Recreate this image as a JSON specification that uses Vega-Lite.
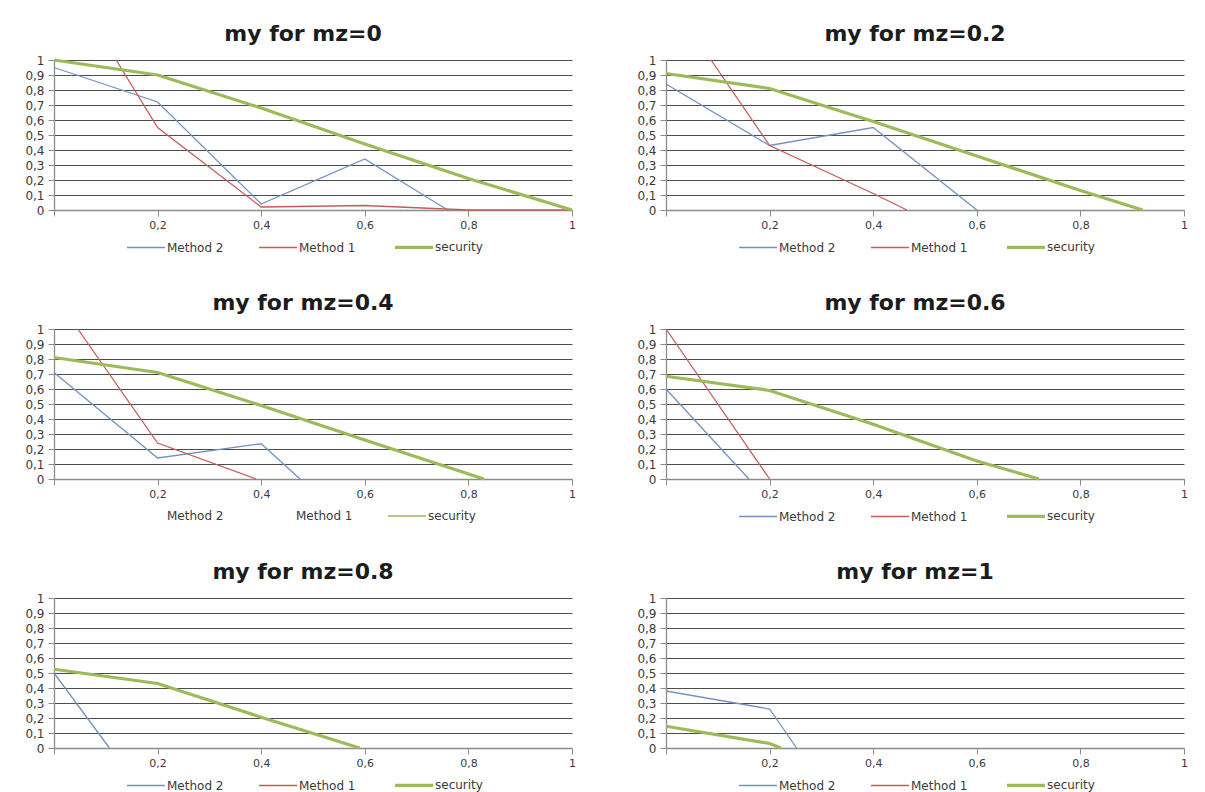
{
  "$schema": "https://vega.github.io/schema/vega-lite/v6.json",
  "background": "white",
  "padding": {"left": 24, "top": 22, "right": 5, "bottom": 0},
  "data": {"values": [
    {"p": "0", "s": "Method 2", "x": 0, "y": 0.95},
    {"p": "0", "s": "Method 2", "x": 0.2, "y": 0.72},
    {"p": "0", "s": "Method 2", "x": 0.4, "y": 0.04},
    {"p": "0", "s": "Method 2", "x": 0.6, "y": 0.34},
    {"p": "0", "s": "Method 2", "x": 0.76, "y": 0},
    {"p": "0", "s": "Method 1", "x": 0.12, "y": 1},
    {"p": "0", "s": "Method 1", "x": 0.2, "y": 0.55},
    {"p": "0", "s": "Method 1", "x": 0.4, "y": 0.02},
    {"p": "0", "s": "Method 1", "x": 0.6, "y": 0.03},
    {"p": "0", "s": "Method 1", "x": 0.8, "y": 0},
    {"p": "0", "s": "Method 1", "x": 1, "y": 0},
    {"p": "0", "s": "security", "x": 0, "y": 1},
    {"p": "0", "s": "security", "x": 0.2, "y": 0.9},
    {"p": "0", "s": "security", "x": 0.4, "y": 0.68},
    {"p": "0", "s": "security", "x": 0.6, "y": 0.44},
    {"p": "0", "s": "security", "x": 0.8, "y": 0.21},
    {"p": "0", "s": "security", "x": 1, "y": 0},

    {"p": "0.2", "s": "Method 2", "x": 0, "y": 0.84},
    {"p": "0.2", "s": "Method 2", "x": 0.2, "y": 0.43},
    {"p": "0.2", "s": "Method 2", "x": 0.4, "y": 0.55},
    {"p": "0.2", "s": "Method 2", "x": 0.6, "y": 0},
    {"p": "0.2", "s": "Method 1", "x": 0.087, "y": 1},
    {"p": "0.2", "s": "Method 1", "x": 0.2, "y": 0.43},
    {"p": "0.2", "s": "Method 1", "x": 0.4, "y": 0.11},
    {"p": "0.2", "s": "Method 1", "x": 0.465, "y": 0},
    {"p": "0.2", "s": "security", "x": 0, "y": 0.91},
    {"p": "0.2", "s": "security", "x": 0.2, "y": 0.81},
    {"p": "0.2", "s": "security", "x": 0.4, "y": 0.59},
    {"p": "0.2", "s": "security", "x": 0.6, "y": 0.36},
    {"p": "0.2", "s": "security", "x": 0.8, "y": 0.13},
    {"p": "0.2", "s": "security", "x": 0.92, "y": 0},

    {"p": "0.4", "s": "Method 2", "x": 0, "y": 0.71},
    {"p": "0.4", "s": "Method 2", "x": 0.2, "y": 0.14},
    {"p": "0.4", "s": "Method 2", "x": 0.4, "y": 0.235},
    {"p": "0.4", "s": "Method 2", "x": 0.475, "y": 0},
    {"p": "0.4", "s": "Method 1", "x": 0.046, "y": 1},
    {"p": "0.4", "s": "Method 1", "x": 0.2, "y": 0.24},
    {"p": "0.4", "s": "Method 1", "x": 0.39, "y": 0},
    {"p": "0.4", "s": "security", "x": 0, "y": 0.81},
    {"p": "0.4", "s": "security", "x": 0.2, "y": 0.71},
    {"p": "0.4", "s": "security", "x": 0.4, "y": 0.49},
    {"p": "0.4", "s": "security", "x": 0.6, "y": 0.26},
    {"p": "0.4", "s": "security", "x": 0.83, "y": 0},

    {"p": "0.6", "s": "Method 2", "x": 0, "y": 0.6},
    {"p": "0.6", "s": "Method 2", "x": 0.16, "y": 0},
    {"p": "0.6", "s": "Method 1", "x": 0, "y": 1},
    {"p": "0.6", "s": "Method 1", "x": 0.2, "y": 0},
    {"p": "0.6", "s": "security", "x": 0, "y": 0.685},
    {"p": "0.6", "s": "security", "x": 0.2, "y": 0.59},
    {"p": "0.6", "s": "security", "x": 0.4, "y": 0.365},
    {"p": "0.6", "s": "security", "x": 0.6, "y": 0.12},
    {"p": "0.6", "s": "security", "x": 0.72, "y": 0},

    {"p": "0.8", "s": "Method 2", "x": 0, "y": 0.5},
    {"p": "0.8", "s": "Method 2", "x": 0.107, "y": 0},
    {"p": "0.8", "s": "security", "x": 0, "y": 0.525},
    {"p": "0.8", "s": "security", "x": 0.2, "y": 0.43},
    {"p": "0.8", "s": "security", "x": 0.4, "y": 0.205},
    {"p": "0.8", "s": "security", "x": 0.59, "y": 0},

    {"p": "1", "s": "Method 2", "x": 0, "y": 0.38},
    {"p": "1", "s": "Method 2", "x": 0.2, "y": 0.26},
    {"p": "1", "s": "Method 2", "x": 0.252, "y": 0},
    {"p": "1", "s": "security", "x": 0, "y": 0.145},
    {"p": "1", "s": "security", "x": 0.2, "y": 0.03},
    {"p": "1", "s": "security", "x": 0.222, "y": 0}
  ]},
  "columns": 2,
  "bounds": "flush",
  "spacing": {"row": 119, "column": 94},
  "resolve": {"scale": {"color": "independent"}, "legend": {"color": "independent"}},
  "concat": [
    {
      "title": "my for mz=0",
      "width": 518, "height": 150,
      "transform": [{"filter": "datum.p == '0'"}],
      "encoding": {
        "x": {"field": "x", "type": "quantitative", "scale": {"domain": [0, 1], "nice": false}, "axis": {"values": [0, 0.2, 0.4, 0.6, 0.8, 1], "grid": false, "labelExpr": "datum.value == 0 ? '' : replace(format(datum.value, '~g'), '.', ',')"}},
        "y": {"field": "y", "type": "quantitative", "scale": {"domain": [0, 1], "nice": false}, "axis": {"values": [0, 0.1, 0.2, 0.3, 0.4, 0.5, 0.6, 0.7, 0.8, 0.9, 1], "grid": true, "labelExpr": "replace(format(datum.value, '~g'), '.', ',')"}},
        "color": {"field": "s", "type": "nominal", "scale": {"domain": ["Method 2", "Method 1", "security"], "range": ["#7193c3", "#c65c5a", "#9bbb59"]}, "legend": {"orient": "none", "direction": "horizontal", "legendX": 86, "legendY": 181, "title": null, "encode": {"symbols": {"update": {"strokeWidth": {"signal": "datum.value == 'security' ? 3.2 : 1.3"}}}}}}
      },
      "layer": [
        {"transform": [{"filter": "datum.s != 'security'"}], "mark": {"type": "line", "strokeWidth": 1.3}},
        {"transform": [{"filter": "datum.s == 'security'"}], "mark": {"type": "line", "strokeWidth": 3.2}}
      ]
    },
    {
      "title": "my for mz=0.2",
      "width": 518, "height": 150,
      "transform": [{"filter": "datum.p == '0.2'"}],
      "encoding": {
        "x": {"field": "x", "type": "quantitative", "scale": {"domain": [0, 1], "nice": false}, "axis": {"values": [0, 0.2, 0.4, 0.6, 0.8, 1], "grid": false, "labelExpr": "datum.value == 0 ? '' : replace(format(datum.value, '~g'), '.', ',')"}},
        "y": {"field": "y", "type": "quantitative", "scale": {"domain": [0, 1], "nice": false}, "axis": {"values": [0, 0.1, 0.2, 0.3, 0.4, 0.5, 0.6, 0.7, 0.8, 0.9, 1], "grid": true, "labelExpr": "replace(format(datum.value, '~g'), '.', ',')"}},
        "color": {"field": "s", "type": "nominal", "scale": {"domain": ["Method 2", "Method 1", "security"], "range": ["#7193c3", "#c65c5a", "#9bbb59"]}, "legend": {"orient": "none", "direction": "horizontal", "legendX": 86, "legendY": 181, "title": null, "encode": {"symbols": {"update": {"strokeWidth": {"signal": "datum.value == 'security' ? 3.2 : 1.3"}}}}}}
      },
      "layer": [
        {"transform": [{"filter": "datum.s != 'security'"}], "mark": {"type": "line", "strokeWidth": 1.3}},
        {"transform": [{"filter": "datum.s == 'security'"}], "mark": {"type": "line", "strokeWidth": 3.2}}
      ]
    },
    {
      "title": "my for mz=0.4",
      "width": 518, "height": 150,
      "transform": [{"filter": "datum.p == '0.4'"}],
      "encoding": {
        "x": {"field": "x", "type": "quantitative", "scale": {"domain": [0, 1], "nice": false}, "axis": {"values": [0, 0.2, 0.4, 0.6, 0.8, 1], "grid": false, "labelExpr": "datum.value == 0 ? '' : replace(format(datum.value, '~g'), '.', ',')"}},
        "y": {"field": "y", "type": "quantitative", "scale": {"domain": [0, 1], "nice": false}, "axis": {"values": [0, 0.1, 0.2, 0.3, 0.4, 0.5, 0.6, 0.7, 0.8, 0.9, 1], "grid": true, "labelExpr": "replace(format(datum.value, '~g'), '.', ',')"}},
        "color": {"field": "s", "type": "nominal", "scale": {"domain": ["Method 2", "Method 1", "security"], "range": ["#7193c3", "#c65c5a", "#9bbb59"]}, "legend": {"orient": "none", "direction": "horizontal", "legendX": 86, "legendY": 181, "title": null, "encode": {"symbols": {"update": {"strokeWidth": {"signal": "datum.value == 'security' ? 1.5 : 0"}}}}}}
      },
      "layer": [
        {"transform": [{"filter": "datum.s != 'security'"}], "mark": {"type": "line", "strokeWidth": 1.3}},
        {"transform": [{"filter": "datum.s == 'security'"}], "mark": {"type": "line", "strokeWidth": 3.2}}
      ]
    },
    {
      "title": "my for mz=0.6",
      "width": 518, "height": 150,
      "transform": [{"filter": "datum.p == '0.6'"}],
      "encoding": {
        "x": {"field": "x", "type": "quantitative", "scale": {"domain": [0, 1], "nice": false}, "axis": {"values": [0, 0.2, 0.4, 0.6, 0.8, 1], "grid": false, "labelExpr": "datum.value == 0 ? '' : replace(format(datum.value, '~g'), '.', ',')"}},
        "y": {"field": "y", "type": "quantitative", "scale": {"domain": [0, 1], "nice": false}, "axis": {"values": [0, 0.1, 0.2, 0.3, 0.4, 0.5, 0.6, 0.7, 0.8, 0.9, 1], "grid": true, "labelExpr": "replace(format(datum.value, '~g'), '.', ',')"}},
        "color": {"field": "s", "type": "nominal", "scale": {"domain": ["Method 2", "Method 1", "security"], "range": ["#7193c3", "#c65c5a", "#9bbb59"]}, "legend": {"orient": "none", "direction": "horizontal", "legendX": 86, "legendY": 181, "title": null, "encode": {"symbols": {"update": {"strokeWidth": {"signal": "datum.value == 'security' ? 3.2 : 1.3"}}}}}}
      },
      "layer": [
        {"transform": [{"filter": "datum.s != 'security'"}], "mark": {"type": "line", "strokeWidth": 1.3}},
        {"transform": [{"filter": "datum.s == 'security'"}], "mark": {"type": "line", "strokeWidth": 3.2}}
      ]
    },
    {
      "title": "my for mz=0.8",
      "width": 518, "height": 150,
      "transform": [{"filter": "datum.p == '0.8'"}],
      "encoding": {
        "x": {"field": "x", "type": "quantitative", "scale": {"domain": [0, 1], "nice": false}, "axis": {"values": [0, 0.2, 0.4, 0.6, 0.8, 1], "grid": false, "labelExpr": "datum.value == 0 ? '' : replace(format(datum.value, '~g'), '.', ',')"}},
        "y": {"field": "y", "type": "quantitative", "scale": {"domain": [0, 1], "nice": false}, "axis": {"values": [0, 0.1, 0.2, 0.3, 0.4, 0.5, 0.6, 0.7, 0.8, 0.9, 1], "grid": true, "labelExpr": "replace(format(datum.value, '~g'), '.', ',')"}},
        "color": {"field": "s", "type": "nominal", "scale": {"domain": ["Method 2", "Method 1", "security"], "range": ["#7193c3", "#c65c5a", "#9bbb59"]}, "legend": {"orient": "none", "direction": "horizontal", "legendX": 86, "legendY": 181, "title": null, "encode": {"symbols": {"update": {"strokeWidth": {"signal": "datum.value == 'security' ? 3.2 : 1.3"}}}}}}
      },
      "layer": [
        {"transform": [{"filter": "datum.s != 'security'"}], "mark": {"type": "line", "strokeWidth": 1.3}},
        {"transform": [{"filter": "datum.s == 'security'"}], "mark": {"type": "line", "strokeWidth": 3.2}}
      ]
    },
    {
      "title": "my for mz=1",
      "width": 518, "height": 150,
      "transform": [{"filter": "datum.p == '1'"}],
      "encoding": {
        "x": {"field": "x", "type": "quantitative", "scale": {"domain": [0, 1], "nice": false}, "axis": {"values": [0, 0.2, 0.4, 0.6, 0.8, 1], "grid": false, "labelExpr": "datum.value == 0 ? '' : replace(format(datum.value, '~g'), '.', ',')"}},
        "y": {"field": "y", "type": "quantitative", "scale": {"domain": [0, 1], "nice": false}, "axis": {"values": [0, 0.1, 0.2, 0.3, 0.4, 0.5, 0.6, 0.7, 0.8, 0.9, 1], "grid": true, "labelExpr": "replace(format(datum.value, '~g'), '.', ',')"}},
        "color": {"field": "s", "type": "nominal", "scale": {"domain": ["Method 2", "Method 1", "security"], "range": ["#7193c3", "#c65c5a", "#9bbb59"]}, "legend": {"orient": "none", "direction": "horizontal", "legendX": 86, "legendY": 181, "title": null, "encode": {"symbols": {"update": {"strokeWidth": {"signal": "datum.value == 'security' ? 3.2 : 1.3"}}}}}}
      },
      "layer": [
        {"transform": [{"filter": "datum.s != 'security'"}], "mark": {"type": "line", "strokeWidth": 1.3}},
        {"transform": [{"filter": "datum.s == 'security'"}], "mark": {"type": "line", "strokeWidth": 3.2}}
      ]
    }
  ],
  "config": {
    "font": "DejaVu Sans",
    "view": {"stroke": null},
    "axis": {"title": null, "labelFont": "DejaVu Sans", "labelFontSize": 11, "labelColor": "#3a3a3a", "domainColor": "#8c8c8c", "domainWidth": 1.3, "tickColor": "#8c8c8c", "tickSize": 6, "gridColor": "#4d4d4d", "gridWidth": 1, "gridOpacity": 1, "labelOverlap": false, "labelFlush": false},
    "axisY": {"labelPadding": 4, "labelFontSize": 12},
    "axisX": {"labelPadding": 3},
    "title": {"font": "DejaVu Sans", "fontSize": 22, "fontWeight": "bold", "color": "#1c1c1c", "anchor": "middle", "baseline": "bottom", "offset": 8, "dx": -10},
    "legend": {"symbolType": "stroke", "symbolSize": 1444, "symbolStrokeWidth": 1.3, "labelFont": "DejaVu Sans", "labelFontSize": 12, "labelColor": "#3a3a3a", "labelOffset": 15, "columnPadding": 32}
  }
}
